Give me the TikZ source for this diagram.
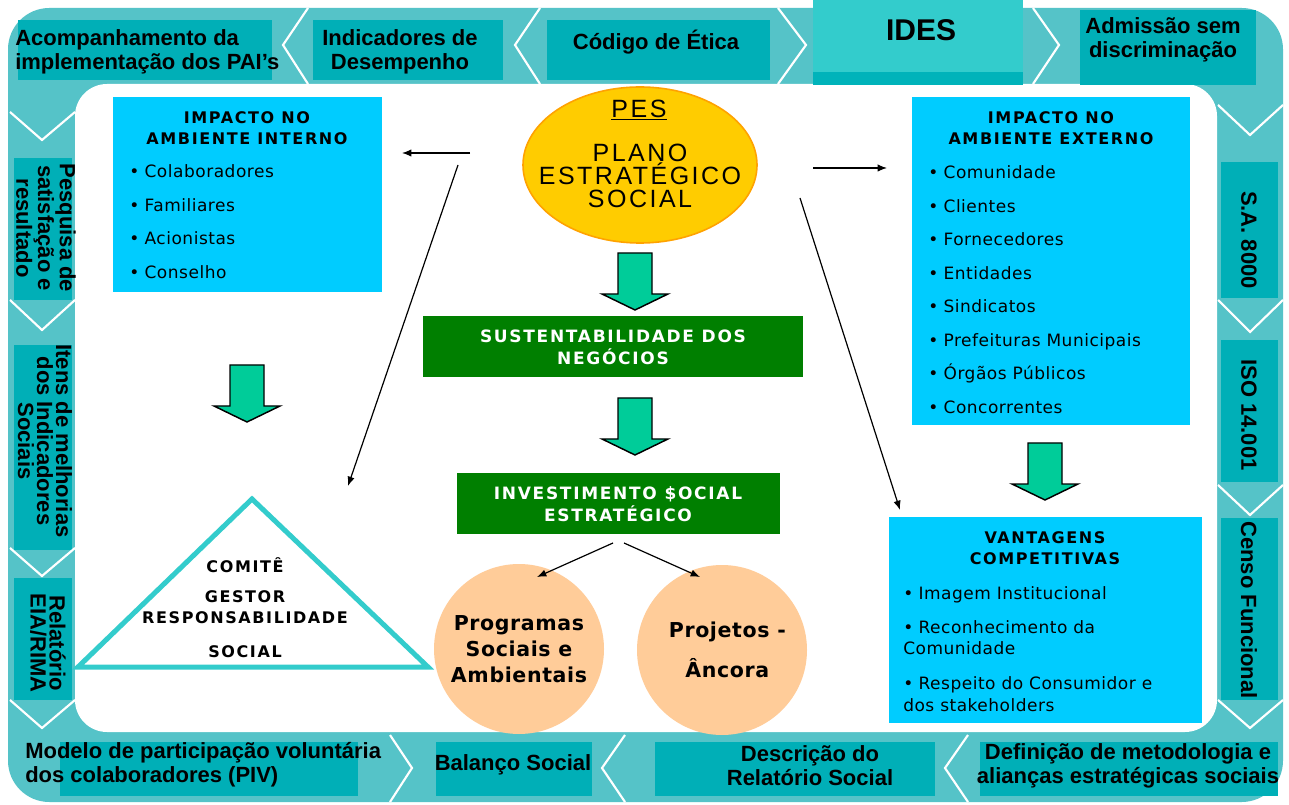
\documentclass[tikz,border=0pt]{standalone}
\usepackage{fontspec}
\setmainfont{Liberation Sans}
\newfontfamily\vf[LetterSpace=3]{DejaVu Sans}
\newfontfamily\vft[LetterSpace=10]{DejaVu Sans}
\newfontfamily\pesf[LetterSpace=10]{Liberation Sans}
\usetikzlibrary{shapes.geometric,arrows.meta,fit,calc}
\definecolor{bandbg}{HTML}{55C3C8}
\definecolor{bandboxc}{HTML}{00AFB7}
\definecolor{idesc}{HTML}{33CCCC}
\definecolor{idesstrip}{HTML}{00B3BA}
\definecolor{skyb}{HTML}{00CCFF}
\definecolor{darkg}{HTML}{007F00}
\definecolor{fatg}{HTML}{00CC99}
\definecolor{peach}{HTML}{FFCC99}
\definecolor{gold}{HTML}{FFCC00}
\definecolor{goldb}{HTML}{FFA200}
\definecolor{trib}{HTML}{33CCCC}
\begin{document}
\begin{tikzpicture}[x=0.75pt,y=-0.75pt,
  chev/.style={white, line width=1.6pt},
  bbox/.style={fill=bandboxc},
  btxt/.style={font=\fontsize{16.5}{18}\selectfont\bfseries, align=center, inner sep=0pt},
  vtxt/.style={font=\fontsize{16.5}{14.2}\selectfont\bfseries, align=center, inner sep=0pt, rotate=-90},
  bluebox/.style={fill=skyb, inner sep=0pt},
  greenbox/.style={fill=darkg, inner sep=0pt},
  ttl/.style={font=\vft\bfseries\fontsize{12}{15.75}\selectfont, align=center, inner sep=0pt},
  litem/.style={font=\vf\fontsize{12.75}{16.5}\selectfont, anchor=base west, inner sep=0pt},
  gtxt/.style={font=\vft\bfseries\fontsize{12.75}{16.5}\selectfont, text=white, align=center, inner sep=0pt},
  tritxt/.style={font=\vft\bfseries\fontsize{12}{14}\selectfont, inner sep=0pt},
  thinarr/.style={draw=black, line width=0.9pt, -{Latex[length=7pt,width=5.5pt]}},
  circ/.style={circle, fill=peach, minimum size=127.5pt, inner sep=0pt, align=center, font=\vf\bfseries\fontsize{15.4}{19.5}\selectfont},
  fatarrow/.pic={\draw[fill=fatg, line width=1.1pt, line join=miter] (-17,0) -- (17,0) -- (17,41) -- (33,41) -- (0,57) -- (-33,41) -- (-17,41) -- cycle;}
]
\useasboundingbox (0,0) rectangle (1289,805);
\fill[white] (0,0) rectangle (1289,805);
% frame band
\fill[bandbg, rounded corners=31pt] (8,8) rectangle (1283,802);
\fill[white, rounded corners=24pt] (75,84) rectangle (1217,732);

% ---- top band
\fill[bbox] (18,20) rectangle (272,80);
\fill[bbox] (313,20) rectangle (503,80);
\fill[bbox] (547,20) rectangle (770,80);
\fill[idesstrip] (813,60) rectangle (1023,85);
\fill[idesc] (813,0) rectangle (1023,72);
\fill[bbox] (1080,10) rectangle (1256,85);
\draw[chev] (308,8) -- (283,45) -- (308,84);
\draw[chev] (540,8) -- (515,45) -- (540,84);
\draw[chev] (778,8) -- (806,45) -- (778,84);
\draw[chev] (1033,8) -- (1059,45) -- (1033,84);
\node[btxt, align=left, anchor=west] (acomp) at (15,52) {Acompanhamento da\\implementação dos PAI’s};
\node[btxt] (indic) at (400,52) {Indicadores de\\Desempenho};
\node[btxt] (codigo) at (656,42) {Código de Ética};
\node[font=\fontsize{22.5}{24}\selectfont\bfseries, inner sep=0pt] (ides) at (921,30) {IDES};
\node[btxt] (admis) at (1163,40) {Admissão sem\\discriminação};

% ---- left band
\fill[bbox] (14,158) rectangle (72,300);
\fill[bbox] (14,345) rectangle (72,550);
\fill[bbox] (14,578) rectangle (72,700);
\draw[chev] (10,112) -- (42,140) -- (75,112);
\draw[chev] (10,300) -- (42,330) -- (75,300);
\draw[chev] (10,548) -- (42,576) -- (75,548);
\draw[chev] (10,700) -- (42,728) -- (75,700);
\node[vtxt] (pesq) at (46,228) {Pesquisa de\\satisfação e\\resultado};
\node[vtxt] (itens) at (45,441) {Itens de melhorias\\dos Indicadores\\Sociais};
\node[vtxt] (relat) at (48,643) {Relatório\\EIA/RIMA};

% ---- right band
\fill[bbox] (1221,162) rectangle (1278,298);
\fill[bbox] (1221,340) rectangle (1278,482);
\fill[bbox] (1221,518) rectangle (1278,700);
\draw[chev] (1218,105) -- (1250,135) -- (1283,105);
\draw[chev] (1218,300) -- (1250,332) -- (1283,300);
\draw[chev] (1218,485) -- (1250,515) -- (1283,485);
\draw[chev] (1218,700) -- (1250,728) -- (1283,700);
\node[vtxt] (sa) at (1249,240) {S.A. 8000};
\node[vtxt] (iso) at (1249,415) {ISO 14.001};
\node[vtxt] (censo) at (1249,610) {Censo Funcional};

% ---- bottom band
\fill[bbox] (60,742) rectangle (358,796);
\fill[bbox] (436,742) rectangle (592,796);
\fill[bbox] (655,742) rectangle (935,796);
\fill[bbox] (980,742) rectangle (1278,796);
\draw[chev] (390,735) -- (412,768) -- (390,802);
\draw[chev] (625,735) -- (602,768) -- (625,802);
\draw[chev] (968,735) -- (945,768) -- (968,802);
\node[btxt, align=left, anchor=west] (modelo) at (25,765) {Modelo de participação voluntária\\dos colaboradores (PIV)};
\node[btxt] (balanco) at (513,765) {Balanço Social};
\node[btxt] (descr) at (810,766) {Descrição do\\Relatório Social};
\node[btxt] (defin) at (1128,766) {Definição de metodologia e\\alianças estratégicas sociais};

% ---- blue boxes
\node[bluebox, fit={(113,97) (382,292)}] (interno) {};
\node[ttl] (intT) at (247,128) {IMPACTO NO\\AMBIENTE INTERNO};
\foreach \t [count=\i] in {Colaboradores,Familiares,Acionistas,Conselho}
  \node[litem] (int\i) at (129,{178+33.4*(\i-1)}) {•\hspace{4pt}\t};

\node[bluebox, fit={(912,97) (1190,425)}] (externo) {};
\node[ttl] (extT) at (1051,128) {IMPACTO NO\\AMBIENTE EXTERNO};
\foreach \t [count=\i] in {Comunidade,Clientes,Fornecedores,Entidades,Sindicatos,Prefeituras Municipais,Órgãos Públicos,Concorrentes}
  \node[litem] (ext\i) at (928,{179+33.5*(\i-1)}) {•\hspace{4pt}\t};

\node[bluebox, fit={(889,517) (1202,723)}] (vant) {};
\node[ttl] (vantT) at (1045,548) {VANTAGENS\\COMPETITIVAS};
\node[litem] (v1) at (903,599) {•\hspace{4pt}Imagem Institucional};
\node[litem] (v2) at (903,633) {•\hspace{4pt}Reconhecimento da};
\node[litem] (v2b) at (903,654) {Comunidade};
\node[litem] (v3) at (903,689) {•\hspace{4pt}Respeito do Consumidor e};
\node[litem] (v3b) at (903,711) {dos stakeholders};

% ---- PES
\node[ellipse, fill=gold, draw=goldb, line width=1.2pt, minimum width=175.5pt, minimum height=117pt, inner sep=0pt] (pes) at (640,165) {};
\node[font=\pesf\fontsize{18.75}{20}\selectfont, inner sep=0pt] (pesT) at (639,110) {\underline{PES}};
\node[font=\pesf\fontsize{18.75}{17.25}\selectfont, align=center, inner sep=0pt] (pesN) at (640,176) {PLANO\\ESTRATÉGICO\\SOCIAL};

% ---- green boxes
\node[greenbox, fit={(423,316) (803,377)}] (sust) {};
\node[gtxt] (sustT) at (613,347) {SUSTENTABILIDADE DOS\\NEGÓCIOS};
\node[greenbox, fit={(457,473) (780,534)}] (invest) {};
\node[gtxt] (investT) at (618,504) {INVESTIMENTO \$OCIAL\\ESTRATÉGICO};

% ---- circles
\node[circ] (prog) at (519,649) {Programas\\Sociais e\\Ambientais};
\node[circ, font=\vf\bfseries\fontsize{15.4}{30}\selectfont] (proj) at (722,650) {\hspace*{8pt}Projetos -\\\hspace*{8pt}Âncora};

% ---- triangle
\coordinate (tA) at (252,499);
\coordinate (tL) at (78,667);
\coordinate (tR) at (428,667);
\draw[trib, line width=3.75pt, fill=white, line join=miter] (tL) -- (tA) -- (tR) -- cycle;
\node[tritxt] (tri1) at (245,565) {COMITÊ};
\node[tritxt] (tri2) at (245,597) {GESTOR};
\node[tritxt] (tri3) at (245,618) {RESPONSABILIDADE};
\node[tritxt] (tri4) at (245,652) {SOCIAL};

% ---- fat arrows
\pic at (635,253) {fatarrow};
\pic at (635,398) {fatarrow};
\pic at (247,365) {fatarrow};
\pic at (1045,443) {fatarrow};

% ---- thin arrows
\coordinate (pL) at (470,153);
\coordinate (iR) at (402,153);
\coordinate (pR) at (813,168);
\coordinate (eL) at (887,168);
\coordinate (pD1) at (458,165);
\coordinate (triT) at (348,486);
\coordinate (pD2) at (800,198);
\coordinate (vT) at (900,510);
\coordinate (inL) at (613,543);
\coordinate (inR) at (624,543);
\coordinate (progT) at (537,577);
\coordinate (projT) at (700,577);
\draw[thinarr] (pL) -- (iR);
\draw[thinarr] (pR) -- (eL);
\draw[thinarr] (pD1) -- (triT);
\draw[thinarr] (pD2) -- (vT);
\draw[thinarr] (inL) -- (progT);
\draw[thinarr] (inR) -- (projT);
\end{tikzpicture}
\end{document}
